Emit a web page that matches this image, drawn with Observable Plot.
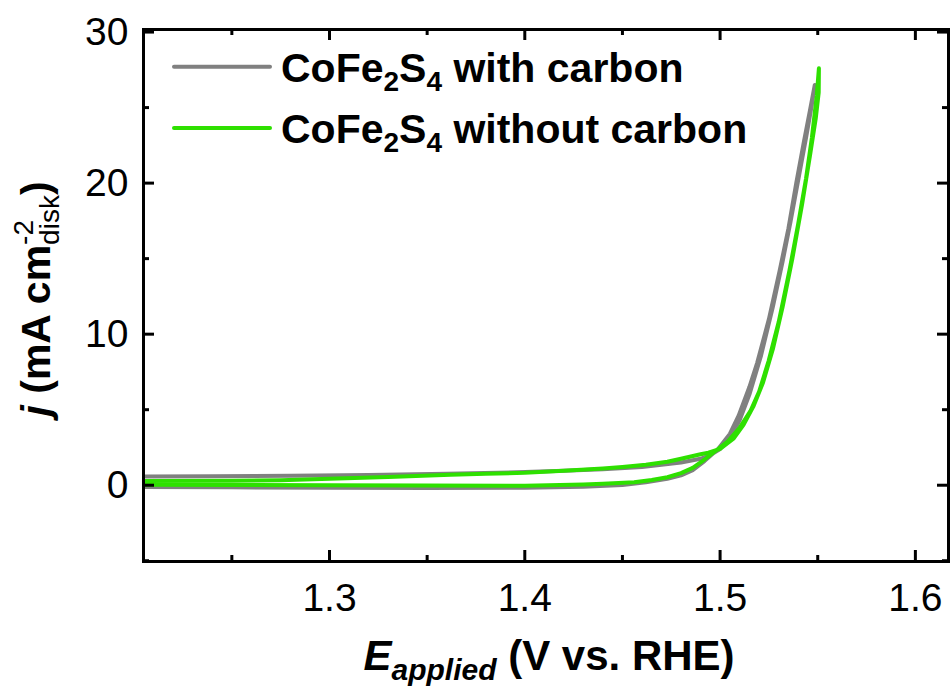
<!DOCTYPE html>
<html>
<head>
<meta charset="utf-8">
<script src="https://cdn.jsdelivr.net/npm/d3@7"></script>
<script src="https://cdn.jsdelivr.net/npm/@observablehq/plot@0.6"></script>
<style>
  html, body { margin: 0; padding: 0; background: #fff; }
  #chart { position: relative; width: 952px; height: 686px; }
</style>
</head>
<body>
<div id="chart"></div>
<script>
// ---- Data ----
const seriesNames = ["CoFe2S4 with carbon", "CoFe2S4 without carbon"];
const seriesColors = ["#808080", "#2ee000"];

// CoFe2S4 with carbon: CV path, anodic sweep then return sweep
const withCarbonE = [1.205,1.25,1.30,1.35,1.40,1.43,1.45,1.462,1.473,1.48,1.486,1.492,1.499,1.505,1.5095,1.515,1.519,1.525,1.5305,1.535,1.539,1.543,1.546,1.5485,
  1.547,1.544,1.540,1.536,1.532,1.527,1.521,1.515,1.510,1.505,1.500,1.495,1.49,1.48,1.47,1.46,1.44,1.42,1.40,1.36,1.32,1.28,1.24,1.205];
const withCarbonJ = [-0.12,-0.14,-0.16,-0.18,-0.17,-0.10,0.02,0.2,0.42,0.65,1.0,1.6,2.4,3.4,4.6,6.5,8.1,11.0,14.2,17.0,20.0,22.8,24.8,26.5,
  25.2,23.0,20.2,17.4,14.8,11.8,8.6,6.0,4.3,3.1,2.4,2.0,1.75,1.5,1.35,1.2,1.05,0.95,0.87,0.76,0.68,0.63,0.6,0.58];

// CoFe2S4 without carbon
const withoutCarbonE = [1.205,1.25,1.30,1.35,1.40,1.43,1.44,1.456,1.465,1.473,1.48,1.486,1.492,1.498,1.504,1.51,1.5155,1.52,1.5248,1.53,1.5355,1.54,1.544,1.547,1.5495,1.5506,
  1.5505,1.549,1.546,1.542,1.537,1.532,1.527,1.522,1.517,1.512,1.507,1.50,1.494,1.49,1.48,1.473,1.462,1.45,1.44,1.42,1.40,1.38,1.362,1.33,1.30,1.275,1.25,1.205];
const withoutCarbonJ = [0.03,0.02,0.0,-0.02,-0.03,0.04,0.09,0.2,0.35,0.53,0.8,1.15,1.7,2.3,2.9,3.8,4.9,6.2,8.2,10.8,14.2,17.3,20.3,23.0,25.8,27.6,
  26.0,24.3,21.8,18.6,15.0,11.8,9.0,6.8,5.2,4.0,3.1,2.4,2.15,2.05,1.75,1.55,1.35,1.2,1.1,0.95,0.82,0.76,0.69,0.55,0.43,0.33,0.3,0.28];

const xMajorTicks = [1.3, 1.4, 1.5, 1.6];
const xMinorTicks = [1.25, 1.35, 1.45, 1.55];
const yMajorTicks = [0, 10, 20, 30];
const yMinorTicks = [-5, 5, 15, 25];

// ---- Build table ----
const rows = [];
withCarbonE.forEach((e, i) => rows.push({series: seriesNames[0], E: e, j: withCarbonJ[i]}));
withoutCarbonE.forEach((e, i) => rows.push({series: seriesNames[1], E: e, j: withoutCarbonJ[i]}));

const W = 952, H = 686;
const mL = 143, mR = 4, mT = 29, mB = 125;
const innerH = H - mT - mB, innerW = W - mL - mR;
const FONT = "'Liberation Sans', Arial, Helvetica, sans-serif";

const chart = Plot.plot({
  width: W, height: H,
  marginLeft: mL, marginRight: mR, marginTop: mT, marginBottom: mB,
  style: {fontFamily: FONT, fontSize: "39px", background: "white", color: "black"},
  x: {domain: [1.20476, 1.61696]},
  y: {domain: [-5.05, 30.17]},
  color: {domain: seriesNames, range: seriesColors},
  marks: [
    Plot.line(rows.filter(d => d.series === seriesNames[0]), {x: "E", y: "j", stroke: "series", strokeWidth: 4, strokeLinejoin: "round", strokeLinecap: "round"}),
    Plot.line(rows.filter(d => d.series === seriesNames[1]), {x: "E", y: "j", stroke: "series", strokeWidth: 4, strokeLinejoin: "round", strokeLinecap: "round"}),
    // inward ticks on all four sides
    Plot.tickX(xMajorTicks, {x: d => d, insetTop: innerH - 11, strokeWidth: 3}),
    Plot.tickX(xMajorTicks, {x: d => d, insetBottom: innerH - 11, strokeWidth: 3}),
    Plot.tickX(xMinorTicks, {x: d => d, insetTop: innerH - 6, strokeWidth: 3}),
    Plot.tickX(xMinorTicks, {x: d => d, insetBottom: innerH - 6, strokeWidth: 3}),
    Plot.tickY(yMajorTicks, {y: d => d, insetRight: innerW - 11, strokeWidth: 3}),
    Plot.tickY(yMajorTicks, {y: d => d, insetLeft: innerW - 11, strokeWidth: 3}),
    Plot.tickY(yMinorTicks, {y: d => d, insetRight: innerW - 6, strokeWidth: 3}),
    Plot.tickY(yMinorTicks, {y: d => d, insetLeft: innerW - 6, strokeWidth: 3}),
    Plot.axisX({ticks: xMajorTicks, tickSize: 0, tickPadding: 22, tickFormat: d3.format(".1f"), fontSize: 39, label: null}),
    Plot.axisY({ticks: yMajorTicks, tickSize: 0, tickPadding: 15, tickFormat: d3.format("d"), fontSize: 39, label: null}),
    Plot.frame({strokeWidth: 3})
  ]
});

document.getElementById("chart").appendChild(chart);
const svg = d3.select(chart);

// ---- X axis title: E_applied (V vs. RHE) ----
const xt = svg.append("text")
  .attr("x", 549).attr("y", 670)
  .attr("text-anchor", "middle")
  .attr("font-family", FONT).attr("font-weight", "bold").attr("font-size", 42).attr("fill", "black");
xt.append("tspan").attr("font-style", "italic").text("E");
xt.append("tspan").attr("font-style", "italic").attr("font-size", 30).attr("dy", 10).text("applied");
xt.append("tspan").attr("dy", -10).text(" (V vs. RHE)");

// ---- Y axis title: j (mA cm^-2_disk) ----
const yt = svg.append("text")
  .attr("transform", "translate(50,299) rotate(-90)")
  .attr("text-anchor", "middle")
  .attr("font-family", FONT).attr("font-weight", "bold").attr("font-size", 41).attr("fill", "black");
yt.append("tspan").attr("font-style", "italic").text("j");
yt.append("tspan").text(" (mA cm");
const sup = yt.append("tspan").attr("font-size", 28).attr("font-weight", "normal").attr("dy", -17).text("-2");
const supW = sup.node().getComputedTextLength();
const sub = yt.append("tspan").attr("font-size", 28).attr("font-weight", "normal").attr("dx", -supW).attr("dy", 26).text("disk");
yt.append("tspan").attr("dy", -9).text(")");

// ---- Legend ----
const legendRows = [
  {name: ["CoFe", "2", "S", "4", " with carbon"], color: seriesColors[0], ly: 66.7, ty: 82},
  {name: ["CoFe", "2", "S", "4", " without carbon"], color: seriesColors[1], ly: 128, ty: 143}
];
legendRows.forEach(r => {
  svg.append("line").attr("x1", 174).attr("x2", 270).attr("y1", r.ly).attr("y2", r.ly)
    .attr("stroke", r.color).attr("stroke-width", 4).attr("stroke-linecap", "round");
  const t = svg.append("text").attr("x", 281).attr("y", r.ty)
    .attr("text-anchor", "start")
    .attr("font-family", FONT).attr("font-weight", "bold").attr("font-size", 41).attr("fill", "black");
  t.append("tspan").text(r.name[0]);
  t.append("tspan").attr("font-size", 28).attr("dy", 9).text(r.name[1]);
  t.append("tspan").attr("dy", -9).text(r.name[2]);
  t.append("tspan").attr("font-size", 28).attr("dy", 9).text(r.name[3]);
  t.append("tspan").attr("dy", -9).text(r.name[4]);
});
</script>
</body>
</html>
